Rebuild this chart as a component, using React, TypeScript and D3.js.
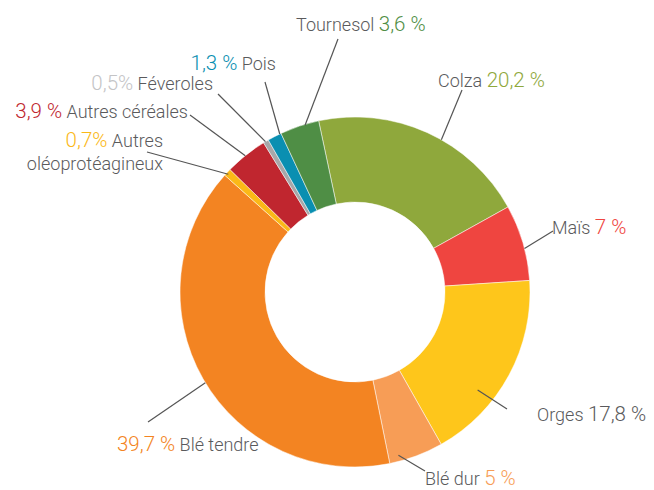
import React from "react";
import * as d3 from "d3";

// parts of the crop surface, clockwise from Colza
const crops = ["Colza", "Maïs", "Orges", "Blé dur", "Blé tendre", "Autres oléoprotéagineux", "Autres céréales", "Féveroles", "Pois", "Tournesol"];
const shares = [20.2, 7, 17.8, 5, 39.7, 0.7, 3.9, 0.5, 1.3, 3.6];
const shareLabels = ["20,2 %", "7 %", "17,8 %", "5 %", "39,7 %", "0,7%", "3,9 %", "0,5%", "1,3 %", "3,6 %"];
const colors = ["#8fa83c", "#ef4540", "#fec61b", "#f79d56", "#f38422", "#fbb817", "#c0262f", "#a7a7a9", "#0a8fb1", "#4f8e45"];
const textGrey = "#5a5a5c";
const labelColors = [colors[0], colors[1], textGrey, colors[3], colors[4], colors[5], colors[6], "#c4c4c6", colors[8], colors[9]];

// label placement: text position, leader start, leader end (fraction of slice, radius)
const labelLayout = [
  {x: 438, y: 87, anchor: "start", pctFirst: false, lx: 462, ly: 90, t: 0.57, r: 175},
  {x: 552, y: 234, anchor: "start", pctFirst: false, lx: 553, ly: 231, t: 0.58, r: 175},
  {x: 537, y: 421, anchor: "start", pctFirst: false, lx: 507, ly: 409, t: 0.66, r: 157},
  {x: 425, y: 485, anchor: "start", pctFirst: false, lx: 425, ly: 471, t: 0.81, r: 169},
  {x: 117, y: 451, anchor: "start", pctFirst: true, lx: 148, ly: 422, t: 0.49, r: 175},
  {x: 163, y: 147, anchor: "end", pctFirst: true, lx: 147, ly: 152, t: 0.4, r: 173},
  {x: 188, y: 118, anchor: "end", pctFirst: true, lx: 190, ly: 115, t: 0.48, r: 175},
  {x: 213, y: 90, anchor: "end", pctFirst: true, lx: 218, ly: 94, t: 0.4, r: 175},
  {x: 276, y: 70, anchor: "end", pctFirst: true, lx: 265, ly: 82, t: 0.9, r: 175},
  {x: 296, y: 31, anchor: "start", pctFirst: false, lx: 338, ly: 39, t: 0.64, r: 174},
];

const width = 654;
const height = 490;
const cx = 355;
const cy = 292;
const outerR = 175;
const innerR = 90;

export default function App() {
  const start = -12 * Math.PI / 180;
  const pie = d3.pie<number>().sort(null).startAngle(start).endAngle(start + 2 * Math.PI);
  const arcs = pie(shares);
  const arc = d3.arc<d3.PieArcDatum<number>>().innerRadius(innerR).outerRadius(outerR);

  return (
    <div style={{position: "absolute", left: 0, top: 0}}>
      <svg width={width} height={height} style={{display: "block"}} fontFamily="Roboto, sans-serif" fontWeight={300}>
        <g transform={`translate(${cx},${cy})`}>
          {arcs.map((a, i) => (
            <path key={crops[i]} d={arc(a) || ""} fill={colors[i]} stroke="#fff" strokeWidth={0.5}/>
          ))}
        </g>
        {arcs.map((a, i) => {
          const l = labelLayout[i];
          const ang = a.startAngle + (a.endAngle - a.startAngle) * l.t;
          const ex = cx + l.r * Math.sin(ang);
          const ey = cy - l.r * Math.cos(ang);
          return (
            <line key={"l" + i} x1={l.lx} y1={l.ly} x2={ex} y2={ey} stroke="#555" strokeWidth={1.2}/>
          );
        })}
        {crops.map((c, i) => {
          const l = labelLayout[i];
          const pct = <tspan fill={labelColors[i]} fontSize={20.5}>{shareLabels[i]}</tspan>;
          if (c === "Autres oléoprotéagineux") {
            return (
              <g key={"t" + i}>
                <text x={l.x} y={l.y} textAnchor="end" fontSize={18} fill={textGrey}>
                  {pct}<tspan> Autres</tspan>
                </text>
                <text x={l.x} y={l.y + 23} textAnchor="end" fontSize={18} fill={textGrey}>oléoprotéagineux</text>
              </g>
            );
          }
          return (
            <text key={"t" + i} x={l.x} y={l.y} textAnchor={l.anchor} fontSize={18} fill={textGrey}>
              {l.pctFirst ? <>{pct}<tspan> {c}</tspan></> : <><tspan>{c} </tspan>{pct}</>}
            </text>
          );
        })}
      </svg>
    </div>
  );
}
